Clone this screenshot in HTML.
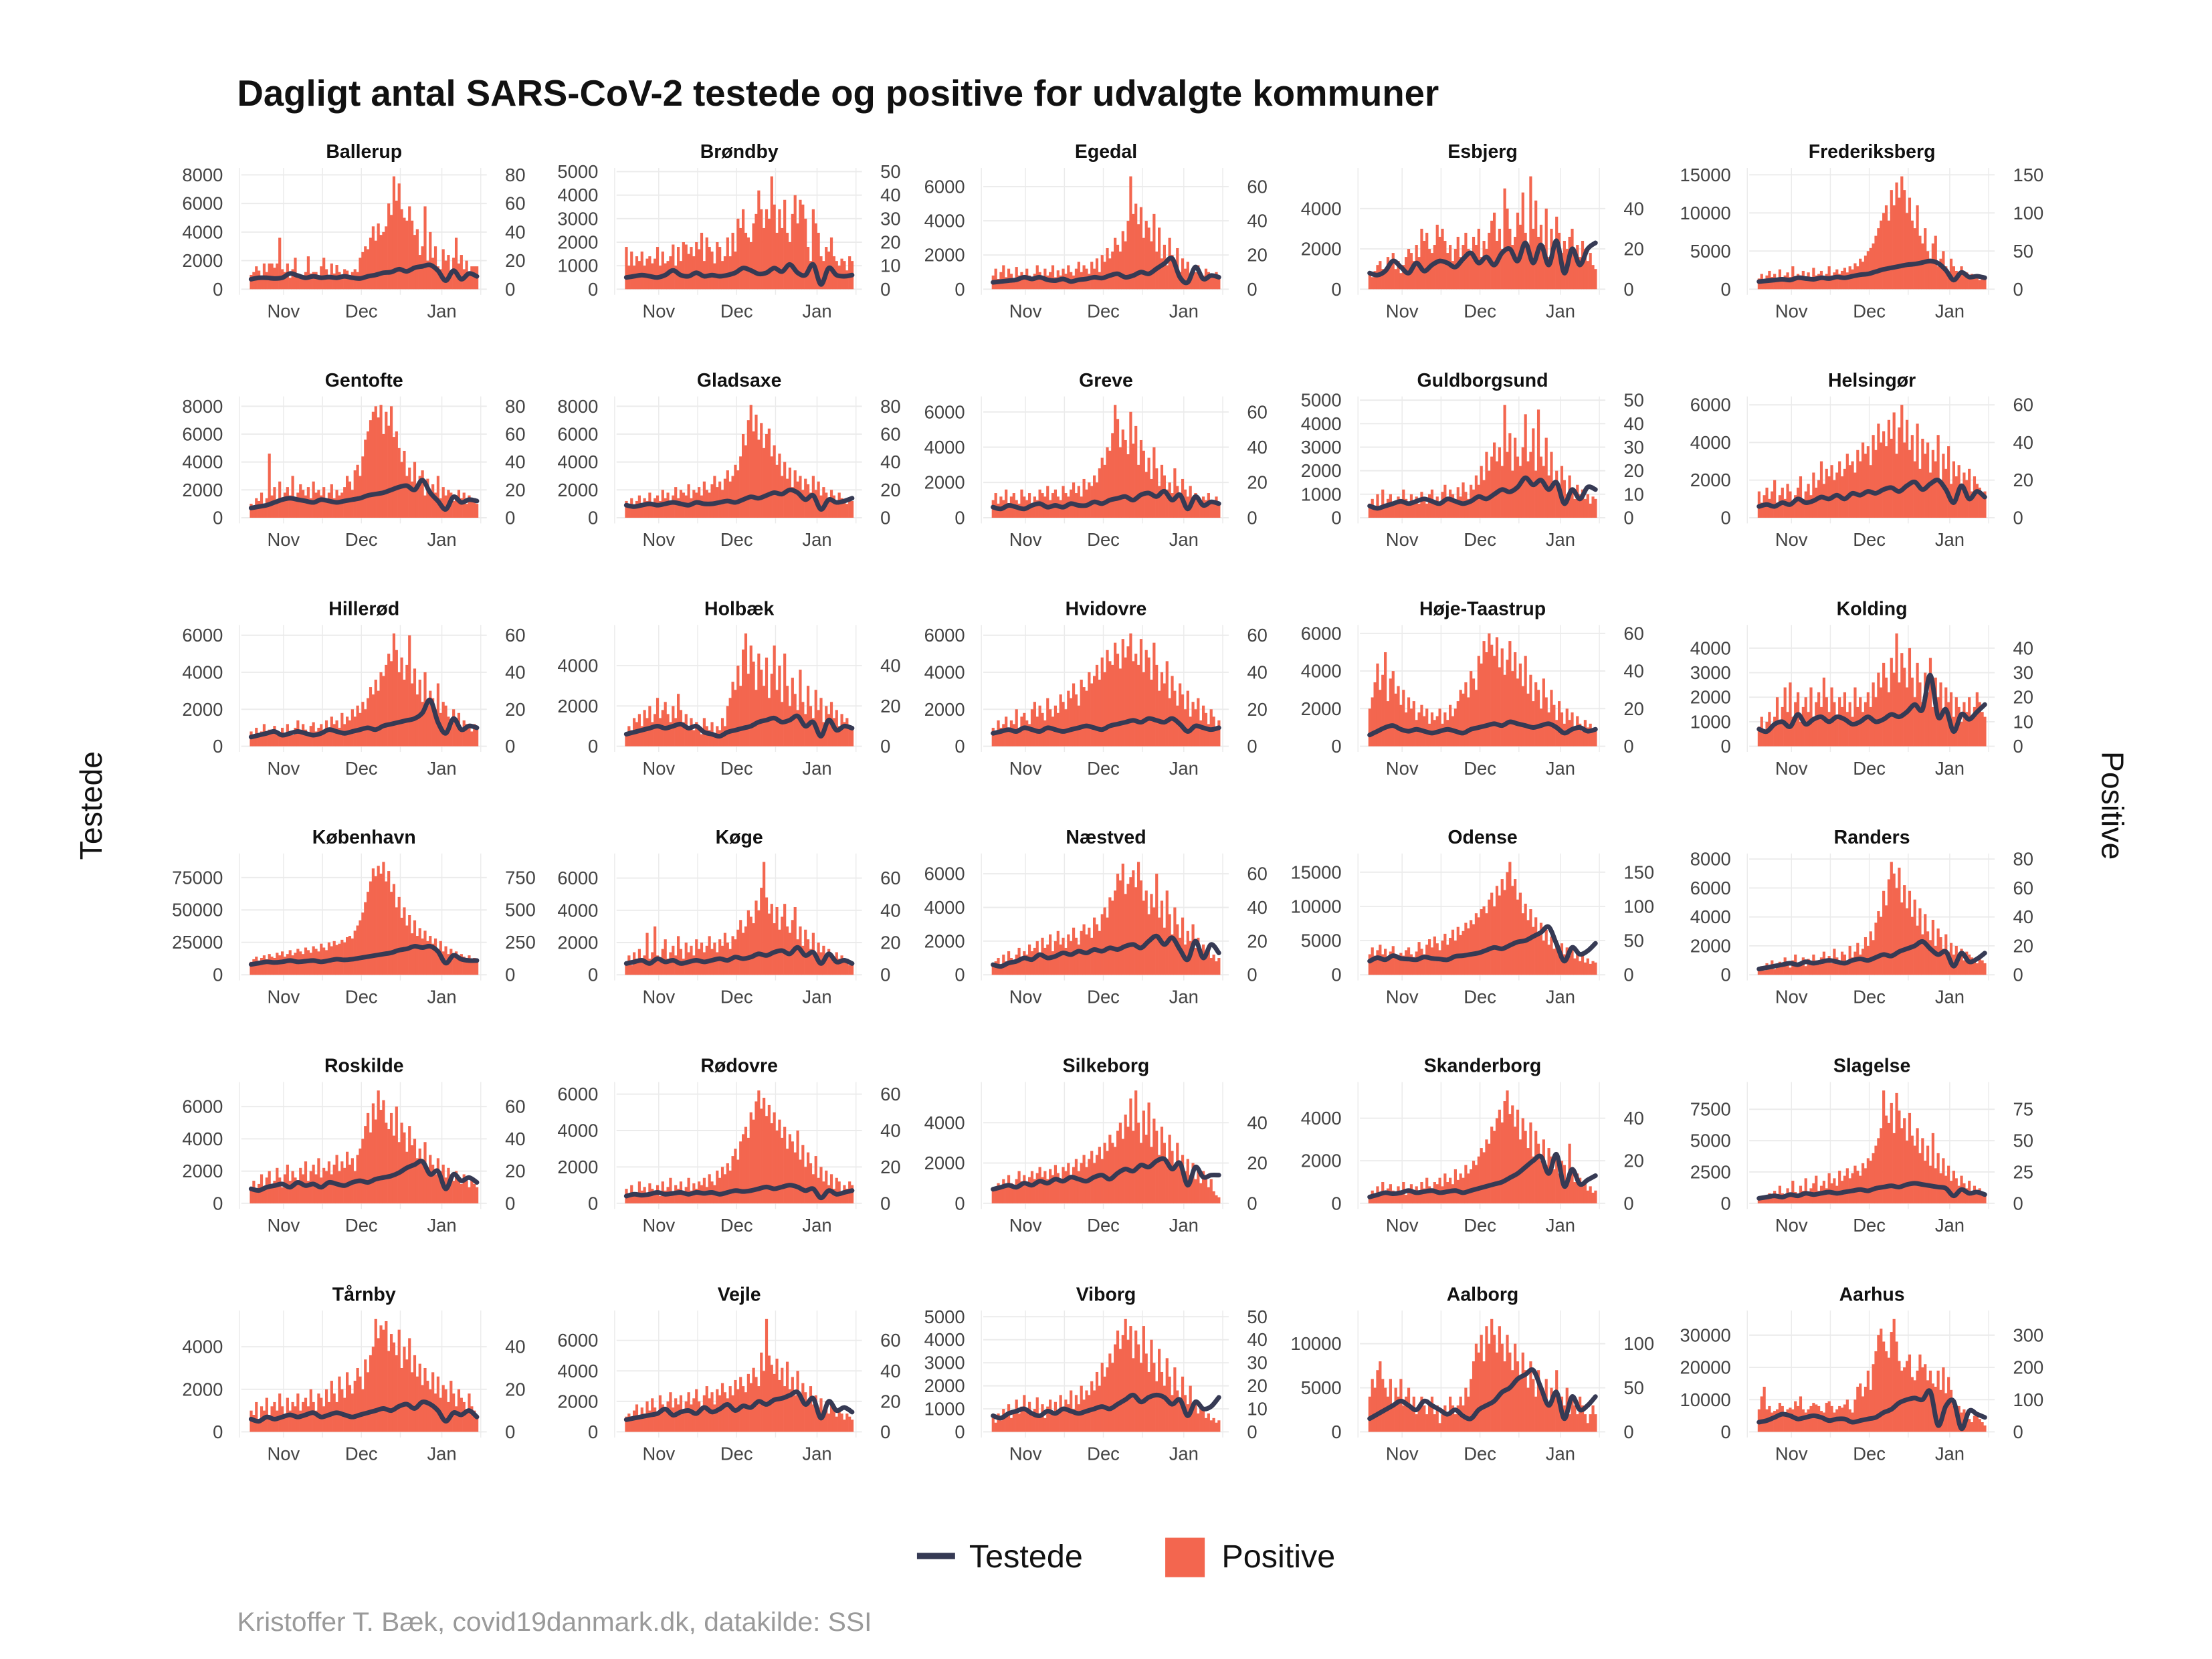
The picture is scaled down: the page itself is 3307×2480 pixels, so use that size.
<!DOCTYPE html>
<html><head><meta charset="utf-8"><style>
html,body{margin:0;padding:0;background:#fff;}
svg{display:block;}
text{font-family:"Liberation Sans",sans-serif;}
</style></head><body>
<svg id="chart" width="3307" height="2480" viewBox="0 0 1568 1176" xmlns="http://www.w3.org/2000/svg">
<rect x="0" y="0" width="1568" height="1176" fill="#fff"/>
<text x="168" y="75" font-size="26" font-weight="bold" fill="#111" textLength="852" lengthAdjust="spacingAndGlyphs">Dagligt antal SARS-CoV-2 testede og positive for udvalgte kommuner</text>
<text transform="translate(72,571) rotate(-90)" text-anchor="middle" font-size="22" fill="#111">Testede</text>
<text transform="translate(1490,571) rotate(90)" text-anchor="middle" font-size="22" fill="#111">Positive</text>
<g id="panels"></g>
<g>
<line x1="650" y1="1103" x2="677" y2="1103" stroke="#363a54" stroke-width="4.5"/>
<text x="687" y="1111" font-size="23" fill="#111">Testede</text>
<rect x="826" y="1090" width="28" height="28" fill="#f3664f"/>
<text x="866" y="1111" font-size="23" fill="#111">Positive</text>
</g>
<text x="168" y="1156" font-size="19" fill="#9a9a9a" textLength="450" lengthAdjust="spacingAndGlyphs">Kristoffer T. Bæk, covid19danmark.dk, datakilde: SSI</text>
</svg>
<script>
const names = ["Ballerup","Brøndby","Egedal","Esbjerg","Frederiksberg","Gentofte","Gladsaxe","Greve","Guldborgsund","Helsingør","Hillerød","Holbæk","Hvidovre","Høje-Taastrup","Kolding","København","Køge","Næstved","Odense","Randers","Roskilde","Rødovre","Silkeborg","Skanderborg","Slagelse","Tårnby","Vejle","Viborg","Aalborg","Aarhus"];
const leftTicks = [[0,2000,4000,6000,8000],[0,1000,2000,3000,4000,5000],[0,2000,4000,6000],[0,2000,4000],[0,5000,10000,15000],
[0,2000,4000,6000,8000],[0,2000,4000,6000,8000],[0,2000,4000,6000],[0,1000,2000,3000,4000,5000],[0,2000,4000,6000],
[0,2000,4000,6000],[0,2000,4000],[0,2000,4000,6000],[0,2000,4000,6000],[0,1000,2000,3000,4000],
[0,25000,50000,75000],[0,2000,4000,6000],[0,2000,4000,6000],[0,5000,10000,15000],[0,2000,4000,6000,8000],
[0,2000,4000,6000],[0,2000,4000,6000],[0,2000,4000],[0,2000,4000],[0,2500,5000,7500],
[0,2000,4000],[0,2000,4000,6000],[0,1000,2000,3000,4000,5000],[0,5000,10000],[0,10000,20000,30000]];
const rightTicks = [[0,20,40,60,80],[0,10,20,30,40,50],[0,20,40,60],[0,20,40],[0,50,100,150],
[0,20,40,60,80],[0,20,40,60,80],[0,20,40,60],[0,10,20,30,40,50],[0,20,40,60],
[0,20,40,60],[0,20,40],[0,20,40,60],[0,20,40,60],[0,10,20,30,40],
[0,250,500,750],[0,20,40,60],[0,20,40,60],[0,50,100,150],[0,20,40,60,80],
[0,20,40,60],[0,20,40,60],[0,20,40],[0,20,40],[0,25,50,75],
[0,20,40],[0,20,40,60],[0,10,20,30,40,50],[0,50,100],[0,100,200,300]];
const monthLabels = ["Nov","Dec","Jan"];
const monthDays = [13,43,74];
const positive = [
[10,12,16,13,9,18,12,18,18,15,18,36,14,12,18,8,14,22,11,10,9,12,23,11,12,12,9,16,22,14,10,18,11,17,12,8,14,13,10,12,14,12,22,26,30,28,36,44,34,46,38,40,44,60,52,79,62,74,56,50,48,58,48,38,42,24,30,58,20,40,22,30,16,14,28,20,24,12,22,36,18,24,14,20,12,16,16,16],
[18,10,16,10,14,12,16,10,13,14,11,13,18,10,16,11,12,14,19,10,18,12,20,19,15,18,14,20,17,24,12,22,18,16,11,20,18,12,14,22,14,24,16,30,26,34,24,22,20,28,32,42,34,26,34,30,48,36,24,34,26,38,24,20,32,40,28,38,36,30,18,12,34,28,24,14,12,18,16,22,14,12,10,13,12,8,14,12],
[8,12,6,10,14,7,12,9,6,13,8,10,6,12,8,6,9,14,10,6,12,8,10,14,7,11,8,12,9,14,10,8,12,16,10,14,12,9,16,12,18,10,20,16,24,18,22,30,26,22,34,28,40,66,44,50,38,48,30,40,36,28,44,22,36,18,26,14,30,20,16,24,10,18,12,16,8,12,10,14,9,8,12,10,9,8,10,8],
[8,6,9,12,14,10,8,16,12,18,10,14,8,12,16,20,18,14,22,16,30,24,28,20,18,22,32,26,30,24,18,22,14,20,26,16,22,28,20,18,26,22,30,16,24,20,28,34,38,24,30,20,50,40,30,22,26,38,32,48,28,20,56,30,44,26,32,22,40,16,30,22,36,28,18,24,20,26,30,18,22,16,24,20,14,18,12,10],
[14,20,12,18,24,16,20,14,26,12,18,22,16,30,14,20,18,24,12,22,16,28,18,20,24,14,20,30,18,22,26,20,24,28,22,30,26,34,30,40,36,44,50,54,60,70,80,90,100,110,90,130,110,140,120,148,130,100,120,90,80,110,70,60,80,50,40,60,70,30,40,50,30,20,40,30,24,20,30,18,22,16,20,14,18,12,16,14],
[10,8,14,12,18,10,14,46,16,22,12,26,14,18,22,16,30,14,18,24,20,16,22,14,26,18,20,16,22,12,18,24,14,20,16,18,22,30,26,20,34,38,30,44,56,62,70,76,80,72,81,60,76,66,80,58,62,50,40,48,30,36,26,40,22,30,34,16,28,20,24,18,30,14,22,16,20,18,12,16,20,14,18,10,16,12,14,10],
[12,10,14,8,12,16,10,14,12,18,10,14,16,12,20,14,18,12,16,22,14,20,18,16,24,14,20,18,22,16,26,20,18,24,30,22,26,20,28,34,26,30,38,34,44,60,52,70,81,62,74,56,68,50,60,64,44,52,38,46,30,40,28,36,22,34,26,30,20,28,24,18,30,20,26,16,22,18,14,20,16,12,18,14,12,10,14,12],
[10,14,8,12,10,16,6,12,14,10,8,16,12,10,14,8,12,10,16,14,12,18,10,14,16,12,10,18,14,12,16,20,14,18,12,22,16,20,18,24,20,28,34,30,40,38,48,64,56,40,50,44,36,60,42,52,30,44,38,26,34,22,40,28,18,30,24,16,20,14,28,18,12,22,16,12,18,10,14,12,8,12,10,14,8,10,12,8],
[6,8,5,10,4,12,6,8,10,5,7,9,6,12,8,5,10,7,9,6,11,8,6,10,12,7,9,6,11,14,8,12,10,7,13,9,15,11,8,14,12,18,14,22,16,28,20,26,32,24,30,22,48,28,36,20,34,26,22,30,44,24,28,38,20,46,26,22,34,18,28,14,20,12,22,16,10,18,12,8,14,10,12,8,10,6,9,8],
[14,8,12,16,10,14,20,8,12,16,10,18,14,8,12,16,22,10,14,18,12,24,16,20,30,18,26,22,28,20,24,30,22,26,34,28,30,24,36,30,40,34,38,28,44,36,50,40,46,38,52,42,56,34,48,60,40,52,36,44,30,50,26,42,34,40,24,36,30,44,20,34,26,38,18,30,22,28,16,24,20,26,14,22,18,16,12,14],
[8,6,10,5,8,12,6,9,7,11,8,6,10,7,12,8,6,10,14,8,12,9,7,11,13,8,10,12,9,14,10,16,12,14,10,18,12,16,14,20,16,22,18,24,20,26,32,28,36,30,40,38,44,50,46,61,52,40,48,36,44,60,34,42,28,36,24,40,22,30,26,20,34,18,24,22,16,14,20,12,18,10,14,12,10,8,12,10],
[6,10,8,14,12,16,10,18,14,20,12,16,24,14,18,22,16,12,20,14,26,18,12,16,10,14,8,12,10,6,14,10,8,12,6,10,8,14,10,20,24,32,28,40,30,48,56,36,50,42,28,46,38,30,44,24,36,50,28,40,22,46,30,20,34,26,18,38,22,16,30,20,14,28,18,24,12,20,16,22,14,18,10,16,12,14,10,8],
[10,8,14,10,12,16,8,14,12,20,10,16,18,14,12,20,24,16,22,18,14,26,20,16,22,18,28,24,20,30,26,34,28,22,36,32,30,40,34,38,44,36,48,40,52,46,44,56,50,42,58,48,54,61,46,50,44,58,40,52,48,36,56,44,30,40,34,46,26,38,30,22,34,28,20,30,16,24,20,26,14,22,18,12,20,16,10,14],
[20,26,34,44,30,38,50,24,36,40,28,32,22,30,18,26,20,24,14,18,22,16,20,12,18,14,16,20,12,18,14,22,16,20,24,30,28,34,26,40,36,30,48,44,56,50,60,54,48,58,42,52,38,46,56,40,50,36,44,32,48,28,38,24,34,30,20,36,26,18,30,22,14,24,18,12,20,14,18,10,16,12,8,14,10,12,8,10],
[8,12,6,10,14,8,12,20,10,16,24,14,26,12,18,22,10,16,20,14,24,12,18,22,16,28,20,14,24,18,12,20,16,22,14,18,12,24,16,20,14,18,22,16,26,20,30,24,34,28,22,36,30,46,26,38,32,24,40,28,20,34,26,18,30,22,36,16,28,20,26,14,24,18,22,12,20,16,10,18,14,20,12,16,22,18,14,12],
[100,120,140,110,130,150,120,160,140,130,170,150,180,140,160,190,150,170,200,180,160,210,190,170,220,200,180,240,210,190,250,220,260,230,240,270,250,290,300,280,340,380,420,480,560,640,720,820,760,840,780,870,720,800,640,700,520,600,440,520,380,460,320,420,300,360,280,340,260,300,240,280,200,260,180,220,160,200,150,180,130,160,140,120,150,110,130,120],
[8,12,6,14,10,16,8,12,26,10,14,30,12,8,16,22,10,14,18,12,24,16,10,20,14,18,12,22,16,20,14,18,24,16,20,14,22,18,26,20,16,24,22,28,34,26,30,40,36,32,46,40,54,70,48,38,44,32,42,28,36,44,30,26,34,42,22,30,18,28,22,16,26,12,20,14,18,10,16,12,8,14,10,12,8,10,6,8],
[6,8,10,6,12,8,14,10,8,12,16,10,14,12,18,14,16,20,12,22,16,18,24,14,20,26,18,22,16,24,20,28,22,18,26,30,24,28,22,34,30,26,36,40,34,46,44,50,60,56,66,48,54,58,62,52,67,56,44,50,36,48,40,60,34,44,28,50,36,24,40,30,22,34,18,26,20,30,16,22,14,18,12,16,10,12,8,10],
[30,40,28,36,44,30,38,26,34,42,30,24,32,28,36,40,30,26,34,48,38,30,44,52,40,56,46,36,50,60,44,54,66,50,70,58,64,76,68,80,74,90,84,96,100,90,110,120,100,130,116,140,124,150,165,130,140,110,120,90,104,80,96,70,84,60,76,50,66,44,56,38,50,34,46,30,40,28,36,24,32,20,28,18,24,16,20,18],
[4,6,3,8,5,10,4,7,9,6,12,8,5,10,14,7,9,12,6,11,8,14,10,7,12,16,9,13,8,18,12,10,16,14,9,20,12,16,22,14,18,26,20,30,24,36,44,40,58,48,66,78,70,60,74,50,62,46,58,40,52,34,46,28,42,30,24,38,20,32,26,18,28,16,22,14,20,12,18,10,16,14,12,10,8,12,10,8],
[10,14,8,12,18,10,16,20,12,14,22,16,10,18,24,14,20,16,12,22,18,26,14,20,24,18,28,16,22,20,26,18,24,30,20,26,22,32,24,28,20,30,34,40,48,56,44,62,52,70,58,64,50,46,56,42,60,38,50,44,32,48,36,40,28,34,26,38,22,30,24,18,28,20,24,16,22,18,14,20,16,12,18,14,10,16,12,10],
[8,5,10,6,4,12,7,9,5,11,8,6,10,4,12,7,9,14,6,10,8,12,5,9,14,7,11,8,12,10,14,9,16,12,10,18,14,20,16,22,18,26,30,24,34,38,42,36,50,46,56,62,52,58,48,54,44,50,40,46,36,42,30,38,34,28,40,24,32,20,28,22,16,26,14,20,12,18,10,16,8,14,12,6,10,8,12,10],
[6,8,10,7,12,8,14,10,9,12,16,11,14,10,13,16,12,15,18,13,16,12,17,14,19,15,12,18,16,20,14,18,22,16,20,24,18,22,26,20,24,28,22,30,26,34,30,28,36,40,32,44,38,52,36,56,40,30,46,34,50,28,42,36,24,38,30,22,34,26,18,30,20,24,16,22,14,20,12,18,10,16,14,8,12,6,4,3],
[4,6,3,8,5,10,4,7,9,6,5,8,6,10,4,7,9,5,8,6,10,7,12,8,6,10,9,12,8,14,10,12,9,16,11,14,12,18,14,16,20,18,22,26,24,30,28,36,34,40,44,38,48,53,42,46,36,44,30,40,34,26,38,22,34,28,20,30,18,26,22,16,24,14,20,18,12,28,16,10,14,12,8,10,6,8,5,6],
[4,6,3,5,8,4,10,6,14,8,5,12,7,18,9,6,14,10,20,8,12,16,22,10,14,18,12,24,16,20,14,26,18,22,28,20,24,30,26,22,32,28,36,34,40,46,52,60,90,70,64,80,56,88,74,60,68,50,72,54,46,60,40,52,34,46,30,56,28,40,24,36,22,30,18,26,20,14,22,16,12,18,10,14,8,12,6,8],
[10,8,14,6,12,10,16,8,12,14,10,18,12,8,16,10,14,12,18,10,14,16,12,20,14,10,18,16,12,20,14,24,18,14,26,20,16,28,22,18,24,30,26,20,34,28,36,40,53,44,50,48,52,38,46,42,36,48,30,40,34,44,28,36,26,32,22,30,24,20,28,18,26,16,22,20,14,24,18,12,20,16,14,10,18,12,10,8],
[10,12,8,14,18,10,16,12,20,14,22,16,12,24,18,14,20,26,16,22,18,24,14,20,26,18,22,28,20,16,24,30,22,26,18,28,24,32,26,22,30,24,34,28,36,30,26,38,32,42,36,30,52,40,74,50,44,38,48,34,42,30,46,28,36,24,40,22,32,26,20,30,18,24,16,22,14,20,12,18,16,10,14,12,8,12,10,8],
[6,4,8,5,10,7,12,6,9,14,8,11,16,9,13,7,10,15,8,12,6,11,14,9,13,8,16,10,14,12,18,10,16,12,20,14,18,16,22,18,26,20,30,24,28,34,30,38,44,36,42,49,40,46,32,44,38,30,46,34,26,40,30,22,36,26,20,32,24,16,28,18,14,24,16,12,20,10,14,8,12,10,6,8,5,6,4,5],
[40,60,50,70,80,60,50,40,60,30,50,40,60,30,40,50,30,40,20,30,40,30,20,30,40,20,30,10,20,30,20,40,30,20,30,40,30,50,40,60,80,100,90,110,80,120,100,128,110,90,120,100,80,110,90,70,100,80,60,90,70,50,80,60,40,70,50,40,60,30,50,40,70,30,40,30,50,20,40,30,20,40,30,20,10,20,30,20],
[70,110,140,70,80,60,65,70,90,80,60,70,75,70,95,80,110,70,60,70,80,90,85,80,65,60,90,95,80,60,70,80,75,85,100,70,60,100,140,150,110,140,190,130,210,250,300,320,280,250,230,310,350,280,220,190,200,220,240,170,160,190,240,200,210,160,190,150,140,190,130,200,120,170,130,80,70,80,60,70,50,40,30,50,60,40,30,20]
];
// tested, sampled every 3 days
const tested = [
[700,800,800,750,800,1100,950,800,900,800,850,800,900,800,750,900,1000,1150,1200,1400,1250,1500,1600,1700,1300,600,1300,700,1100,900],
[500,550,600,550,500,600,800,600,550,700,550,600,550,600,700,900,800,650,700,900,750,1050,700,600,1050,200,900,600,550,600],
[400,450,500,550,700,600,700,550,500,600,450,550,600,700,650,800,900,700,800,1000,900,1200,1500,1800,700,400,1300,600,800,700],
[800,700,900,1400,1100,800,1300,900,1200,1400,1300,1100,1500,1800,1300,1600,1200,1800,2000,1400,2300,1300,2200,1200,2400,800,2000,1200,2000,2300],
[1000,1100,1200,1300,1200,1500,1400,1300,1500,1400,1600,1500,1700,1900,2000,2300,2600,2800,3000,3200,3300,3500,3700,3400,2500,1200,2200,1600,1700,1500],
[700,800,900,1100,1300,1400,1300,1200,1100,1300,1200,1100,1200,1300,1400,1600,1700,1800,2000,2200,2300,2000,2700,1800,1200,600,1500,1100,1300,1200],
[900,800,900,1000,900,1000,1100,1000,900,1100,1000,1000,1100,1200,1100,1300,1500,1400,1600,1800,1700,2000,1800,1300,1600,600,1300,1100,1200,1400],
[600,500,700,600,500,700,800,600,700,600,800,700,700,900,800,1000,1100,1200,1000,1300,1400,1200,1500,1000,1300,500,1200,700,900,800],
[500,400,500,600,700,600,700,800,700,600,800,700,600,700,900,800,1000,1200,1100,1300,1700,1400,1600,1200,1500,600,1200,800,1300,1200],
[600,700,600,800,700,1000,800,900,1100,1000,1200,1000,1300,1200,1400,1300,1500,1600,1400,1700,1900,1500,1800,2000,1500,800,1700,1000,1400,1100],
[500,600,700,800,600,700,800,700,600,700,900,800,700,800,900,1000,900,1100,1200,1300,1400,1500,1800,2500,1300,700,1500,900,1100,1000],
[600,700,800,900,1000,900,1000,1100,900,1000,700,600,500,700,800,900,1000,1200,1300,1400,1200,1300,1500,1000,1200,500,1300,800,1000,900],
[700,800,900,800,1000,900,800,1000,900,800,900,1000,1100,1000,900,1100,1200,1300,1400,1300,1500,1400,1300,1500,1200,800,1100,1000,900,1000],
[600,800,1000,1100,900,800,900,800,700,800,900,800,700,900,1000,1100,1200,1100,1300,1200,1100,1000,1100,1200,1000,700,900,1000,800,900],
[700,600,900,1000,800,1300,900,1100,1200,1000,1200,1100,900,1000,1200,1000,1100,1300,1200,1400,1700,1500,2900,1200,1500,600,1300,1100,1400,1700],
[8000,9000,10000,9500,10000,11000,10000,10500,11000,10000,11000,12000,11500,12000,13000,14000,15000,16000,17000,19000,20000,22000,21000,22000,18000,9000,15000,12000,11000,11000],
[700,800,900,700,1000,800,900,700,800,900,800,900,1000,900,1100,1000,1100,1300,1200,1400,1500,1300,1700,1200,1400,700,1300,800,900,700],
[600,500,700,800,1000,900,1200,1000,1100,1300,1200,1400,1300,1500,1400,1600,1500,1700,1800,1600,2000,2300,1800,2200,1500,900,2000,1000,1800,1300],
[2000,2500,2200,2800,2400,2300,2200,2600,2400,2300,2200,2700,2800,3000,3200,3600,4000,3800,4300,4800,5000,5600,6200,7000,4500,2000,4000,3000,3500,4600],
[400,500,600,700,800,700,900,800,900,1000,900,800,1000,1100,1000,1200,1400,1300,1600,1800,2000,2300,1800,1400,1600,600,1500,900,1100,1500],
[900,800,1000,1100,1200,1000,1300,1100,1200,1000,1300,1200,1100,1300,1400,1300,1500,1600,1700,1900,2200,2400,2600,1800,2000,900,1800,1400,1600,1300],
[400,500,450,500,600,500,550,600,500,600,550,600,500,600,700,650,700,800,900,800,900,1000,900,700,800,300,700,500,600,700],
[700,800,900,800,1000,900,1100,1000,1200,1100,1300,1200,1100,1300,1400,1200,1500,1700,1600,1900,1800,2100,2200,1700,2000,900,1800,1300,1400,1400],
[300,400,500,450,500,600,500,550,600,500,550,600,500,600,700,800,900,1000,1200,1400,1700,2000,2200,1400,2300,800,1600,900,1100,1300],
[400,500,600,500,700,600,800,700,800,900,800,900,1000,1100,1000,1200,1300,1400,1300,1500,1600,1500,1400,1300,1200,600,1100,800,900,700],
[600,500,700,600,700,800,700,800,900,700,800,900,800,700,800,900,1000,1100,1000,1200,1300,1100,1400,1300,1000,500,900,800,1000,700],
[800,900,1000,1100,1200,1500,1100,1300,1400,1200,1600,1300,1500,1800,1400,1700,1600,2000,1800,2100,2200,2400,2600,1800,2200,900,2000,1400,1600,1300],
[700,600,800,900,1000,800,700,900,800,1000,900,800,900,1000,1100,1000,1200,1400,1600,1300,1500,1600,1500,1200,1400,700,1300,1000,1100,1500],
[1500,2000,2500,3000,3500,3000,2500,3500,3000,2500,2000,2500,1800,1500,2500,3000,3500,4500,5000,6000,6500,7000,5000,3000,4500,1500,4000,2500,3000,4000],
[3000,3500,4500,5500,5000,4000,4500,5000,4500,3500,4000,4000,3000,3500,4000,4500,6000,7000,9000,10000,10500,10000,12500,2000,8000,9500,1000,6500,5500,4500]
];

const NS = "http://www.w3.org/2000/svg";
const colX0 = [177,443,703,970,1246];
const DAYW = 1.84, BASE0 = 205, ROWH = 162, PH = 80;
const root = document.getElementById("panels");
function mk(tag, attrs, parent){ const e=document.createElementNS(NS,tag); for(const k in attrs) e.setAttribute(k,attrs[k]); parent.appendChild(e); return e; }
function fmt(v){ return String(v); }

names.forEach((name, p) => {
  const c = p % 5, r = Math.floor(p / 5);
  const x0 = colX0[c], base = BASE0 + r * ROWH;
  const pos = positive[p], tst = tested[p];
  const M = Math.max(Math.max(...pos) * 100, Math.max(...tst));
  const yS = v => base - v / M * PH;
  const yP = v => base - v * 100 / M * PH;
  const xD = d => x0 + d * DAYW;
  const g = mk("g", {}, root);
  
  
  [-4,13,28,43,58,74,89].forEach(d => {
    const l = mk("line", {x1:xD(d), x2:xD(d), y1:base-86, y2:base+4, stroke:"#ebebeb", "stroke-width":0.7}, g);
    
    
  });
  leftTicks[p].forEach(v => {
    const y = yS(v);
    const l = mk("line", {x1:x0-6, x2:x0+168, y1:y, y2:y, stroke:"#ebebeb", "stroke-width":0.9}, g);
    
    
    const t = mk("text", {x:x0-19, y:y+4.5, "text-anchor":"end", "font-size":13, fill:"#444"}, g);
    t.textContent = fmt(v);
    
    
  });
  rightTicks[p].forEach(v => {
    const t = mk("text", {x:x0+181, y:yP(v)+4.5, "font-size":13, fill:"#444"}, g);
    t.textContent = fmt(v);
    
    
  });
  monthLabels.forEach((m, i) => {
    const t = mk("text", {x:xD(monthDays[i]), y:base+20, "text-anchor":"middle", "font-size":13, fill:"#444"}, g);
    t.textContent = m;
    
    
  });
  const title = mk("text", {x:x0+81, y:base-93, "text-anchor":"middle", "font-size":13.5, "font-weight":"bold", fill:"#111"}, g);
  title.textContent = name;
  
  
  pos.forEach((v, i) => {
    const y = yP(v);
    const b = mk("rect", {x:xD(i), y:y, width:DAYW+0.15, height:base-y, fill:"#f3664f"}, g);
    
    
  });
  const pts = tst.map((v, i) => [xD(i*3 + 0.5), yS(v)]);
  let d = "M" + pts[0][0] + "," + pts[0][1];
  for (let i = 0; i < pts.length - 1; i++) {
    const p0 = pts[Math.max(0,i-1)], p1 = pts[i], p2 = pts[i+1], p3 = pts[Math.min(pts.length-1,i+2)];
    const c1x = p1[0] + (p2[0]-p0[0])/6, c1y = p1[1] + (p2[1]-p0[1])/6;
    const c2x = p2[0] - (p3[0]-p1[0])/6, c2y = p2[1] - (p3[1]-p1[1])/6;
    d += " C" + c1x + "," + c1y + " " + c2x + "," + c2y + " " + p2[0] + "," + p2[1];
  }
  const path = mk("path", {d:d, fill:"none", stroke:"#363a54", "stroke-width":3.3, "stroke-linejoin":"round", "stroke-linecap":"round"}, g);
  
  
});
</script>
</body></html>
